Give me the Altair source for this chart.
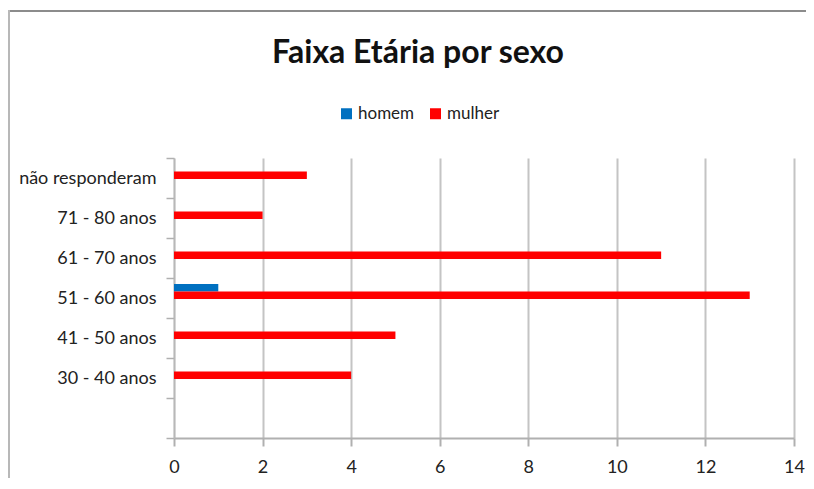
import altair as alt
import pandas as pd

categories = ["não responderam", "71 - 80 anos", "61 - 70 anos", "51 - 60 anos",
              "41 - 50 anos", "30 - 40 anos", " "]
homem = [0, 0, 0, 1, 0, 0, None]
mulher = [3, 2, 11, 13, 5, 4, None]
series = ["homem", "mulher"]
colors = ["#0070C0", "#FF0000"]
x_ticks = [0, 2, 4, 6, 8, 10, 12, 14]

rows = []
for c, h, m in zip(categories, homem, mulher):
    if h is not None:
        rows.append({"faixa": c, "sexo": "homem", "valor": h})
    if m is not None:
        rows.append({"faixa": c, "sexo": "mulher", "valor": m})
df = pd.DataFrame(rows)

FONT = "Lato"
offset_domain = series + ["_a", "_b"]

bars = alt.Chart(df).mark_bar().encode(
    x=alt.X("valor:Q",
            scale=alt.Scale(domain=[0, 14], nice=False, zero=True),
            axis=alt.Axis(values=x_ticks, title=None, grid=True, gridColor="#c4c4c4",
                          gridWidth=2, domainColor="#b0b0b0", domainWidth=2,
                          tickColor="#b0b0b0", tickWidth=2, tickSize=8,
                          labelFont=FONT, labelFontSize=18, labelColor="#222222",
                          labelPadding=12, labelFlush=False)),
    y=alt.Y("faixa:N", sort=categories,
            scale=alt.Scale(domain=categories, paddingInner=0, paddingOuter=0),
            axis=alt.Axis(title=None, tickBand="extent", tickSize=8, tickColor="#b0b0b0",
                          tickWidth=1.5, domainColor="#b8b8b8", domainWidth=1.5,
                          labelFont=FONT, labelFontSize=18, labelColor="#222222",
                          labelPadding=10, labelLimit=300)),
    yOffset=alt.YOffset("sexo:N",
                        scale=alt.Scale(domain=offset_domain, paddingInner=0,
                                        paddingOuter=0.667, align=0.6)),
    color=alt.Color("sexo:N", sort=series,
                    scale=alt.Scale(domain=series, range=colors),
                    legend=alt.Legend(title=None, orient="none", legendX=164, legendY=-53,
                                      direction="horizontal", symbolType="square",
                                      symbolSize=121, symbolStrokeWidth=0,
                                      labelFont=FONT, labelFontSize=17,
                                      labelColor="#222222", labelOffset=3,
                                      columnPadding=12)),
)

border_top = alt.Chart(df).mark_rule(color="#8c8c8c", strokeWidth=2).encode(
    x=alt.value(-166), x2=alt.value(660), y=alt.value(-147))
border_left = alt.Chart(df).mark_rule(color="#b8b8b8", strokeWidth=1.5).encode(
    x=alt.value(-165), y=alt.value(-148), y2=alt.value(345))

chart = alt.layer(border_top, border_left, bars).properties(
    width=620, height=280,
    autosize=alt.AutoSizeParams(type="none"),
    padding={"left": 166, "top": 150, "right": 12, "bottom": 40},
    title=alt.Title("Faixa Etária por sexo", font=FONT, fontSize=32, fontWeight="bold",
                    color="#111111", anchor="middle", dx=-66, offset=0, dy=86,
                    baseline="alphabetic"),
).configure_view(stroke=None)

chart.save("out.html", embed_options={"renderer": "svg", "actions": False})
